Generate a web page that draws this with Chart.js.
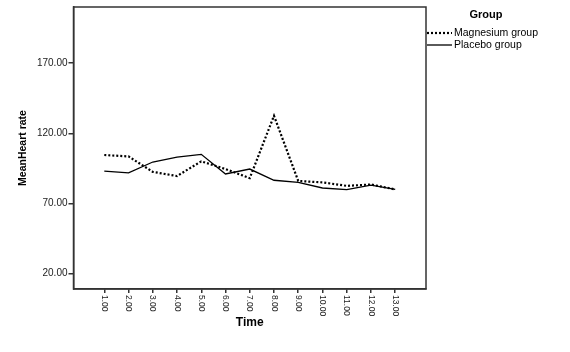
<!DOCTYPE html>
<html>
<head>
<meta charset="utf-8">
<script src="https://cdn.jsdelivr.net/npm/chart.js@4.4.0/dist/chart.umd.min.js"></script>
<style>
  html, body { margin: 0; padding: 0; background: #fff; }
  #wrap { width: 570px; height: 352px; }
</style>
</head>
<body>
<div id="wrap"><canvas id="grafico" width="570" height="352"></canvas></div>
<script>
const timeValues = [1, 2, 3, 4, 5, 6, 7, 8, 9, 10, 11, 12, 13];
const magnesium = [104.5, 103.5, 92.5, 89.5, 100, 94.5, 88, 132.5, 86, 85, 82.5, 83.5, 80];
const placebo = [93, 91.8, 99.5, 103, 105, 91, 94.5, 86.5, 85, 81, 79.8, 83, 80];
const yTicks = [20, 70, 120, 170];
const seriesNames = ["Magnesium group", "Placebo group"];

const FONT = "'Liberation Sans', Arial, sans-serif";
const INK = "#000";
const FRAME = "#333";

// moldura, rótulos do eixo x girados e legenda à direita
const extras = {
  id: "extras",
  afterDraw(chart) {
    const { ctx, chartArea: a } = chart;
    const xs = chart.scales.x;
    ctx.save();
    ctx.strokeStyle = FRAME;
    ctx.lineWidth = 1.5;
    ctx.strokeRect(a.left, a.top, a.right - a.left, a.bottom - a.top);

    ctx.fillStyle = "#222";
    ctx.font = "8.5px " + FONT;
    ctx.textAlign = "left";
    ctx.textBaseline = "middle";
    timeValues.forEach(v => {
      const x = xs.getPixelForValue(v);
      ctx.save();
      ctx.translate(x, a.bottom + 6);
      ctx.rotate(Math.PI / 2);
      ctx.fillText(v.toFixed(2), 0, 0);
      ctx.restore();
    });

    // legenda
    const lx = a.right + 1;
    ctx.fillStyle = INK;
    ctx.font = "bold 11px " + FONT;
    ctx.textAlign = "center";
    ctx.fillText("Group", lx + 59, 15);
    ctx.font = "10.5px " + FONT;
    ctx.textAlign = "left";
    chart.data.datasets.forEach((ds, i) => {
      const y = 33 + i * 12;
      ctx.beginPath();
      ctx.strokeStyle = INK;
      ctx.lineWidth = ds.borderWidth;
      ctx.setLineDash(ds.borderDash || []);
      ctx.moveTo(lx, y);
      ctx.lineTo(lx + 25, y);
      ctx.stroke();
      ctx.setLineDash([]);
      ctx.fillText(ds.label, lx + 27, y);
    });
    ctx.restore();
  }
};

const ctx = document.getElementById("grafico").getContext("2d");

const chart = new Chart(ctx, {
  type: "line",
  data: {
    datasets: [
      {
        label: seriesNames[0],
        data: timeValues.map((t, i) => ({ x: t, y: magnesium[i] })),
        borderColor: INK,
        borderWidth: 2.2,
        borderDash: [2, 2],
        pointRadius: 0,
        tension: 0
      },
      {
        label: seriesNames[1],
        data: timeValues.map((t, i) => ({ x: t, y: placebo[i] })),
        borderColor: INK,
        borderWidth: 1.3,
        pointRadius: 0,
        tension: 0
      }
    ]
  },
  options: {
    responsive: false,
    animation: false,
    layout: { padding: { top: 5, right: 144, left: 0, bottom: 0 } },
    plugins: {
      legend: { display: false },
      tooltip: { enabled: false }
    },
    scales: {
      x: {
        type: "linear",
        min: -0.27,
        max: 14.27,
        afterBuildTicks: s => { s.ticks = timeValues.map(v => ({ value: v })); },
        afterFit: s => { s.height = 63; },
        ticks: { display: false },
        grid: { drawOnChartArea: false, drawTicks: true, tickLength: 4, color: FRAME, lineWidth: 1.5 },
        border: { display: true, color: FRAME, width: 1.5 },
        title: {
          display: true,
          text: "Time",
          color: INK,
          font: { family: FONT, size: 12, weight: "bold" },
          padding: { top: 0, bottom: 22 }
        }
      },
      y: {
        min: 9,
        max: 210,
        afterBuildTicks: s => { s.ticks = yTicks.map(v => ({ value: v })); },
        afterFit: s => { s.width = 73.5; },
        ticks: {
          color: "#222",
          padding: 1,
          font: { family: FONT, size: 10 },
          callback: v => Number(v).toFixed(2)
        },
        grid: { drawOnChartArea: false, drawTicks: true, tickLength: 5, color: FRAME, lineWidth: 1.5 },
        border: { display: true, color: FRAME, width: 1.5 },
        title: {
          display: true,
          text: "MeanHeart rate",
          color: INK,
          font: { family: FONT, size: 10.5, weight: "bold" },
          padding: { top: 16.5, bottom: 0 }
        }
      }
    }
  },
  plugins: [extras]
});
</script>
</body>
</html>
